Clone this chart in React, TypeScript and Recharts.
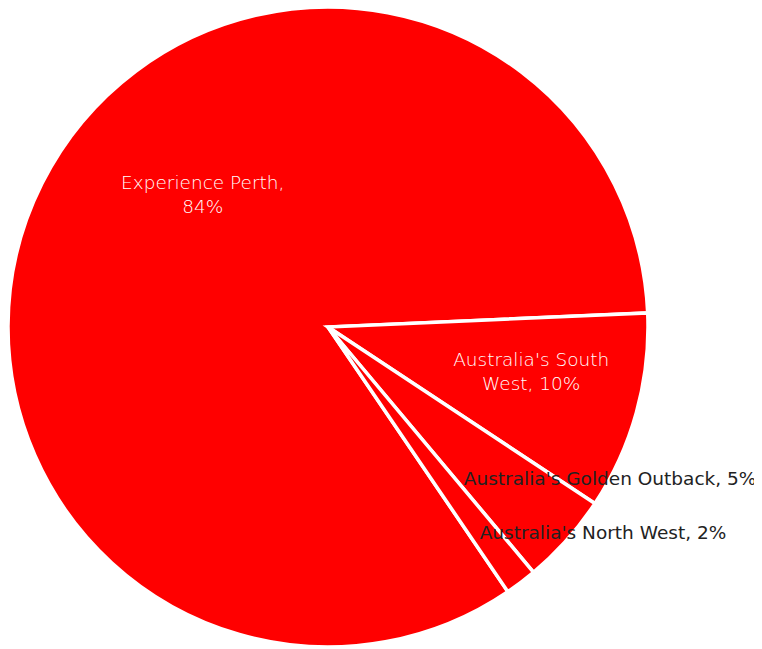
import { PieChart, Pie, Cell } from "recharts";

const regions = [
    "Experience Perth",
    "Australia's South West",
    "Australia's Golden Outback",
    "Australia's North West",
];
const shares = [83.8, 10.0, 4.6, 1.6];

// label lines (inside labels wrap onto two lines)
const labelLines = [
    ["Experience Perth,", "84%"],
    ["Australia's South", "West, 10%"],
    ["Australia's Golden Outback, 5%"],
    ["Australia's North West, 2%"],
];

// where each label sits relative to its slice: angle nudge (deg) and radius ratio
const labelPlacement = [
    { shift: -20, ratio: 0.57, inside: true },
    { shift: 3.2, ratio: 0.65, inside: true },
    { shift: 13.6, ratio: 1.0, inside: false },
    { shift: 16.2, ratio: 1.072, inside: false },
];

const data = regions.map((name, i) => ({ name, value: shares[i] }));

const RAD = Math.PI / 180;
const FONT = "'DejaVu Sans', sans-serif";

const renderLabel = (props: any) => {
    const { cx, cy, midAngle, outerRadius, index } = props;
    const p = labelPlacement[index];
    const ang = (midAngle + p.shift) * RAD;
    const r = outerRadius * p.ratio;
    const x = cx + r * Math.cos(ang);
    const y = cy - r * Math.sin(ang);
    const lines = labelLines[index];
    const lh = 24;
    const y0 = y - ((lines.length - 1) * lh) / 2;
    return (
        <text
            x={x}
            y={y0}
            textAnchor="middle"
            dominantBaseline="central"
            fill={p.inside ? "#ffffff" : "#222222"}
            fontFamily={FONT}
            fontSize={18.5}
            fontWeight={p.inside ? 200 : 400}
        >
            {lines.map((l, k) => (
                <tspan key={k} x={x} dy={k === 0 ? 0 : lh}>
                    {l}
                </tspan>
            ))}
        </text>
    );
};

const App = () => {
    return (
        <PieChart width={754} height={641} margin={{ top: 0, right: 0, bottom: 0, left: 0 }}>
            <Pie
                data={data}
                dataKey="value"
                nameKey="name"
                cx={320}
                cy={319}
                outerRadius={320}
                startAngle={-55.8}
                endAngle={-415.8}
                stroke="#ffffff"
                strokeWidth={3.5}
                labelLine={false}
                label={renderLabel}
                isAnimationActive={false}
            >
                {data.map((d) => (
                    <Cell key={d.name} fill="#ff0000" />
                ))}
            </Pie>
        </PieChart>
    );
};

export default App;
